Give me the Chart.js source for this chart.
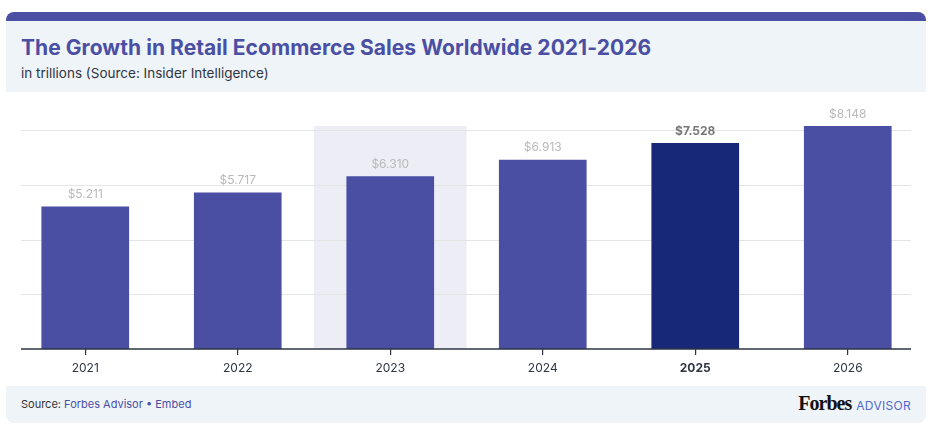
<!DOCTYPE html>
<html>
<head>
<meta charset="utf-8">
<script src="https://cdn.jsdelivr.net/npm/chart.js@4"></script>
<style>
  body { margin: 0; width: 934px; height: 432px; background: #fff; position: relative; overflow: hidden; font-family: Inter, "Noto Sans", sans-serif; }
  .header { position: absolute; left: 6px; top: 12px; width: 920px; height: 71px; border-top: 9px solid #4a4fa3; border-radius: 8px 8px 0 0; background: #eff4f9; }
  .title { position: absolute; left: 15px; top: 14px; font-size: 21px; font-weight: 700; color: #4a4fa3; letter-spacing: 0.05px; white-space: nowrap; }
  .subtitle { position: absolute; left: 15px; top: 44px; font-size: 13.5px; color: #2f3542; white-space: nowrap; }
  .chart-wrap { position: absolute; left: 0; top: 92px; width: 934px; height: 294px; }
  .footer { position: absolute; left: 6px; top: 386px; width: 920px; height: 37px; background: #eff4f9; border-radius: 0 0 8px 8px; }
  .source { position: absolute; left: 15px; top: 11px; font-size: 11px; color: #333; white-space: nowrap; }
  .source span { color: #4a4fa3; }
  .logo { position: absolute; right: 15px; top: 6px; white-space: nowrap; }
  .logo .forbes { font-family: "Liberation Serif", serif; font-weight: 700; font-size: 20px; color: #111; letter-spacing: -1px; }
  .logo .advisor { font-size: 12px; color: #5468cf; margin-left: 5px; letter-spacing: 0.3px; }
</style>
</head>
<body>
<div class="header">
  <div class="title">The Growth in Retail Ecommerce Sales Worldwide 2021-2026</div>
  <div class="subtitle">in trillions (Source: Insider Intelligence)</div>
</div>
<div class="chart-wrap"><canvas id="salesChart" width="934" height="294"></canvas></div>
<div class="footer">
  <div class="source">Source: <span>Forbes Advisor • Embed</span></div>
  <div class="logo"><span class="forbes">Forbes</span><span class="advisor">ADVISOR</span></div>
</div>
<script>
// Chart data
const years = ['2021', '2022', '2023', '2024', '2025', '2026'];
const sales = [5.211, 5.717, 6.310, 6.913, 7.528, 8.148];
const gridValues = [2, 4, 6, 8];
const highlightIndex = 2;   // shaded column
const emphasisIndex = 4;    // dark bar, bold labels

// Shaded column, grid lines and axis line
const backdropPlugin = {
  id: 'backdrop',
  beforeDatasetsDraw(chart) {
    const { ctx, chartArea, scales } = chart;
    const x = scales.x, y = scales.y;
    const catW = (chartArea.right - chartArea.left) / years.length;
    const cx = x.getPixelForValue(highlightIndex);
    ctx.save();
    ctx.fillStyle = '#ededf5';
    ctx.fillRect(cx - catW / 2, chartArea.top, catW, chartArea.bottom - chartArea.top);
    ctx.strokeStyle = '#e4e4e4';
    ctx.lineWidth = 1;
    gridValues.forEach(v => {
      const py = Math.round(y.getPixelForValue(v)) + 0.5;
      ctx.beginPath();
      ctx.moveTo(21, py);
      ctx.lineTo(911, py);
      ctx.stroke();
    });
    ctx.restore();
  },
  afterDatasetsDraw(chart) {
    const { ctx, chartArea } = chart;
    ctx.save();
    ctx.strokeStyle = '#2d3442';
    ctx.lineWidth = 1.5;
    ctx.beginPath();
    ctx.moveTo(21, chartArea.bottom);
    ctx.lineTo(911, chartArea.bottom);
    ctx.stroke();

    // value labels above bars
    const meta = chart.getDatasetMeta(0);
    ctx.textAlign = 'center';
    ctx.textBaseline = 'middle';
    meta.data.forEach((bar, i) => {
      const bold = i === emphasisIndex;
      ctx.font = (bold ? '700 ' : '400 ') + '12px Inter, "Noto Sans", sans-serif';
      ctx.fillStyle = bold ? '#777777' : '#b9b9b9';
      ctx.fillText('$' + sales[i].toFixed(3), bar.x, bar.y - 12);
    });
    ctx.restore();
  }
};

new Chart(document.getElementById('salesChart'), {
  type: 'bar',
  data: {
    labels: years,
    datasets: [{
      data: sales,
      backgroundColor: sales.map((v, i) => i === emphasisIndex ? '#172878' : '#4a4fa3'),
      barPercentage: 0.575,
      categoryPercentage: 1
    }]
  },
  options: {
    responsive: false,
    animation: false,
    events: [],
    layout: { padding: { left: 9, right: 10, top: 34, bottom: 0 } },
    plugins: {
      legend: { display: false },
      tooltip: { enabled: false }
    },
    scales: {
      y: {
        display: false,
        min: 0,
        max: 8.148
      },
      x: {
        border: { display: false },
        grid: {
          offset: false,
          drawOnChartArea: false,
          drawTicks: true,
          tickLength: 6,
          color: '#2d3442',
          lineWidth: 1.2
        },
        ticks: {
          padding: 6,
          color: '#2f3542',
          font: (c) => ({
            family: 'Inter, "Noto Sans", sans-serif',
            size: 12,
            weight: c.index === emphasisIndex ? '700' : '400'
          })
        },
        afterFit(scale) { scale.height = 37; }
      }
    }
  },
  plugins: [backdropPlugin]
});
</script>
</body>
</html>
